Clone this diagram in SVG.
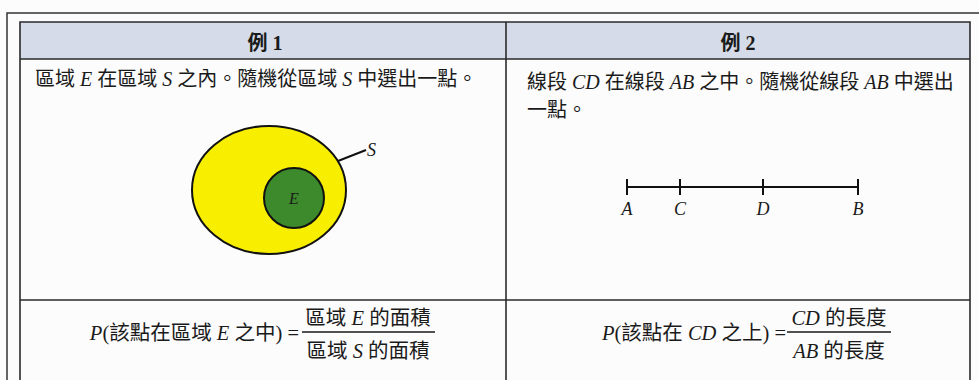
<svg xmlns="http://www.w3.org/2000/svg" width="979" height="380" viewBox="0 0 979 380">
  <style>
    .frame { fill: none; stroke: #333; stroke-width: 1.5; }
    .grid { fill: none; stroke: #2a2a2a; stroke-width: 1.6; }
    .txt { font-family: "Liberation Serif", "Noto Sans CJK TC", serif; fill: #1a1a1a; }
    .it { font-family: "Liberation Serif", serif; font-style: italic; }
    .hd { font-family: "Liberation Serif", "Noto Sans CJK TC", serif; font-weight: bold; font-size: 20px; fill: #1a1a1a; }
    .ink { stroke: #111; stroke-width: 2; fill: none; }
  </style>
  <rect x="0" y="0" width="979" height="380" fill="#fcfcfc"/>
  <g id="frame">
    <path class="frame" d="M7 380 V13 H979"/>
  </g>
  <g id="table">
    <rect x="20" y="22" width="950" height="37" fill="#d5dbe8"/>
    <path class="grid" d="M20 380 V22 H970 V380"/>
    <line class="grid" x1="20" y1="59" x2="970" y2="59"/>
    <line class="grid" x1="20" y1="300" x2="970" y2="300"/>
    <line class="grid" x1="506" y1="22" x2="506" y2="380"/>
  </g>
  <g id="header1">
    <text class="hd" x="265" y="50" text-anchor="middle">例 1</text>
  </g>
  <g id="header2">
    <text class="hd" x="738" y="50" text-anchor="middle">例 2</text>
  </g>
  <g id="desc1">
    <text class="txt" x="35" y="86" font-size="20">區域 <tspan class="it">E</tspan> 在區域 <tspan class="it">S</tspan> 之內。隨機從區域 <tspan class="it">S</tspan> 中選出一點。</text>
  </g>
  <g id="desc2">
    <text class="txt" x="527" y="89" font-size="20">線段 <tspan class="it">CD</tspan> 在線段 <tspan class="it">AB</tspan> 之中。隨機從線段 <tspan class="it">AB</tspan> 中選出</text>
    <text class="txt" x="527" y="117" font-size="20">一點。</text>
  </g>
  <g id="regionS">
    <ellipse cx="269" cy="190" rx="77" ry="64" fill="#f8ef00" stroke="#111" stroke-width="2"/>
    <line class="ink" x1="338" y1="161" x2="366" y2="150" stroke-width="1.8"/>
    <text class="txt it" x="367" y="156" font-size="18">S</text>
  </g>
  <g id="regionE">
    <circle cx="294" cy="198" r="30" fill="#3d8a2c" stroke="#111" stroke-width="2"/>
    <text class="txt it" x="294" y="204" font-size="16" text-anchor="middle" fill="#1a1a1a">E</text>
  </g>
  <g id="segmentAB">
    <line class="ink" x1="627" y1="187" x2="858" y2="187"/>
    <line class="ink" x1="627" y1="179" x2="627" y2="195"/>
    <line class="ink" x1="680" y1="179" x2="680" y2="195"/>
    <line class="ink" x1="763" y1="179" x2="763" y2="195"/>
    <line class="ink" x1="858" y1="179" x2="858" y2="195"/>
    <g class="txt it" font-size="18" text-anchor="middle">
      <text x="627" y="215">A</text>
      <text x="680" y="215">C</text>
      <text x="763" y="215">D</text>
      <text x="858" y="215">B</text>
    </g>
  </g>
  <g id="formula1">
    <text class="txt" x="299" y="340" font-size="20.5" text-anchor="end"><tspan class="it">P</tspan>(該點在區域 <tspan class="it">E</tspan> 之中) =</text>
    <text class="txt" x="368" y="325" font-size="20.5" text-anchor="middle">區域 <tspan class="it">E</tspan> 的面積</text>
    <line x1="302" y1="332" x2="435" y2="332" stroke="#1a1a1a" stroke-width="1.3"/>
    <text class="txt" x="368" y="358" font-size="20.5" text-anchor="middle">區域 <tspan class="it">S</tspan> 的面積</text>
  </g>
  <g id="formula2">
    <text class="txt" x="786" y="340" font-size="20.5" text-anchor="end"><tspan class="it">P</tspan>(該點在 <tspan class="it">CD</tspan> 之上) =</text>
    <text class="txt" x="839" y="325" font-size="20.5" text-anchor="middle"><tspan class="it">CD</tspan> 的長度</text>
    <line x1="787" y1="332" x2="891" y2="332" stroke="#1a1a1a" stroke-width="1.3"/>
    <text class="txt" x="839" y="358" font-size="20.5" text-anchor="middle"><tspan class="it">AB</tspan> 的長度</text>
  </g>
</svg>
